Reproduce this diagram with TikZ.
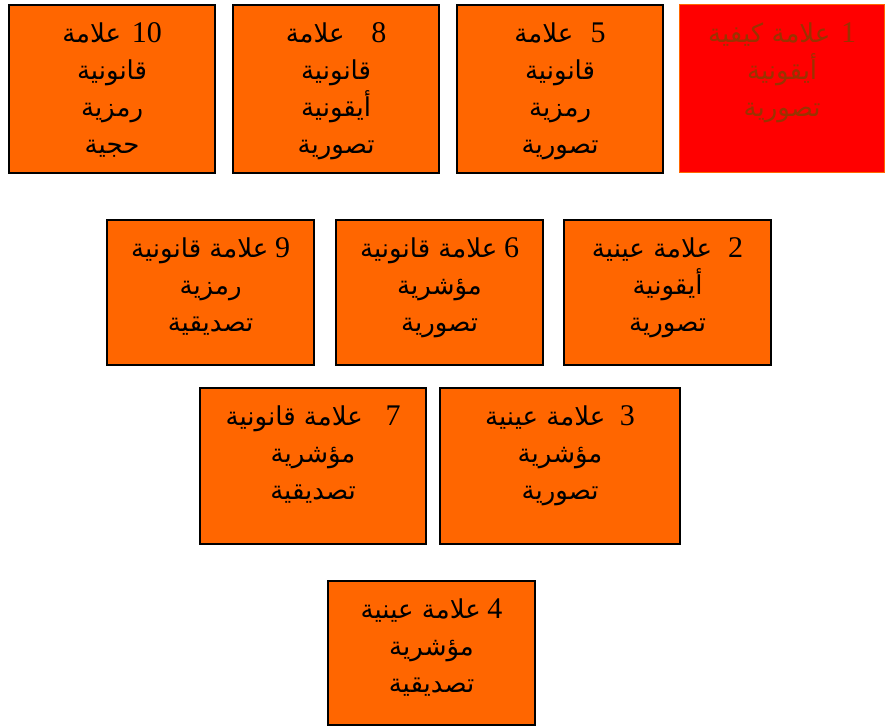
\documentclass[tikz,border=0pt]{standalone}
\usepackage{fontspec}
\setmainfont{Liberation Serif}
\newfontfamily\arfont[Script=Arabic]{DejaVu Sans}
\TeXXeTstate=1
\newcommand\Ar[1]{{\arfont\fontsize{19.5}{27.75}\selectfont\beginR #1\endR}}
\newcommand\firstline{\rule{0pt}{24pt}}
\definecolor{boxorange}{HTML}{FF6600}
\definecolor{boxred}{HTML}{FF0000}
\definecolor{darktext}{HTML}{993300}
\tikzset{
  x=0.75pt, y=-0.75pt,
  signbox/.style={draw=black, line width=1.6pt, fill=boxorange, inner sep=0pt, anchor=north west},
  redbox/.style={draw=boxorange, line width=1pt, fill=boxred, inner sep=0pt, anchor=north west},
  signtext/.style={anchor=north, inner sep=0pt, align=center,
    font=\fontsize{22.5}{27.75}\selectfont},
}
\newcommand\signnode[8]{%
  % #1 name, #2 x, #3 y, #4 width, #5 height, #6 style, #7 text style, #8 text
  \node[#6, minimum width=#4*0.75pt, minimum height=#5*0.75pt] (#1) at (#2,#3) {};
  \node[signtext, #7] (#1t) at ([yshift=-6*0.75pt]#1.north) {#8};
}
\begin{document}
\begin{tikzpicture}
\useasboundingbox (0,0) rectangle (885,725);
% top row
\signnode{s10}{8}{4}{206}{168}{signbox}{}{\firstline\Ar{علامة}\hspace{8pt}10\\ \Ar{قانونية}\\ \Ar{رمزية}\\ \Ar{حجية}}
\signnode{s8}{232}{4}{206}{168}{signbox}{}{\firstline\Ar{علامة}\hspace{20pt}8\\ \Ar{قانونية}\\ \Ar{أيقونية}\\ \Ar{تصورية}}
\signnode{s5}{456}{4}{206}{168}{signbox}{}{\firstline\Ar{علامة}\hspace{13pt}5\\ \Ar{قانونية}\\ \Ar{رمزية}\\ \Ar{تصورية}}
\signnode{s1}{679}{4}{205}{168}{redbox}{text=darktext}{\firstline\Ar{علامة كيفية}\hspace{8pt}1\\ \Ar{أيقونية}\\ \Ar{تصورية}}
% second row
\signnode{s9}{106}{219}{207}{145}{signbox}{}{\firstline\Ar{علامة قانونية}\hspace{5pt}9\\ \Ar{رمزية}\\ \Ar{تصديقية}}
\signnode{s6}{335}{219}{207}{145}{signbox}{}{\firstline\Ar{علامة قانونية}\hspace{5pt}6\\ \Ar{مؤشرية}\\ \Ar{تصورية}}
\signnode{s2}{563}{219}{207}{145}{signbox}{}{\firstline\Ar{علامة عينية}\hspace{12pt}2\\ \Ar{أيقونية}\\ \Ar{تصورية}}
% third row
\signnode{s7}{199}{387}{226}{156}{signbox}{}{\firstline\Ar{علامة قانونية}\hspace{17pt}7\\ \Ar{مؤشرية}\\ \Ar{تصديقية}}
\signnode{s3}{439}{387}{240}{156}{signbox}{}{\firstline\Ar{علامة عينية}\hspace{11pt}3\\ \Ar{مؤشرية}\\ \Ar{تصورية}}
% bottom row
\signnode{s4}{327}{580}{207}{144}{signbox}{}{\firstline\Ar{علامة عينية}\hspace{5pt}4\\ \Ar{مؤشرية}\\ \Ar{تصديقية}}
\end{tikzpicture}
\end{document}
